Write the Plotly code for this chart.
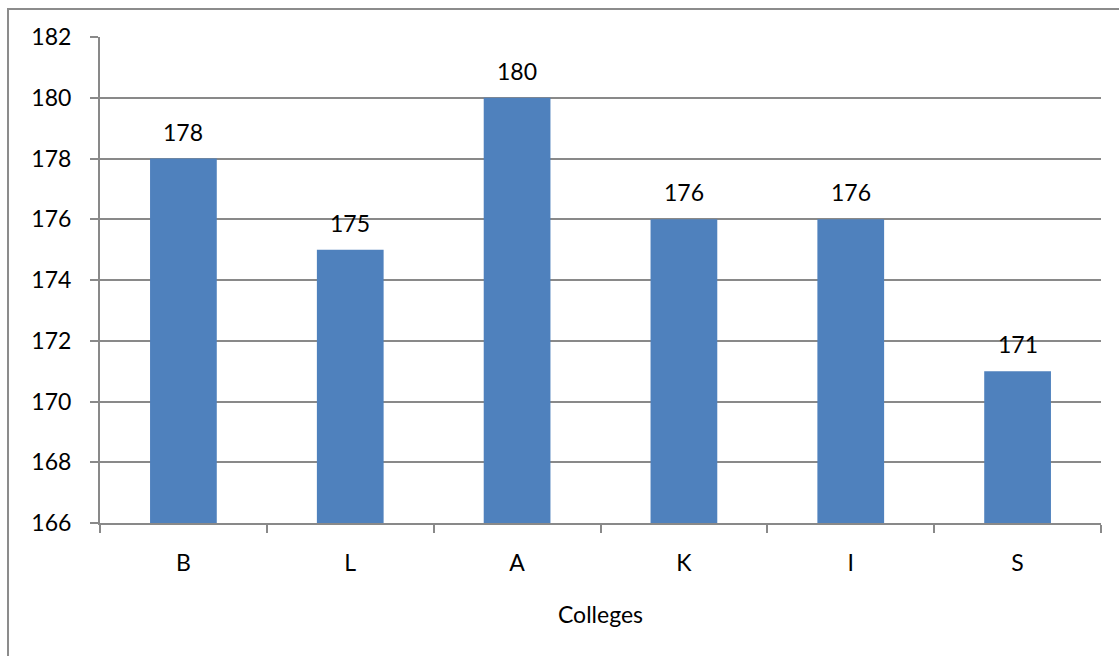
import plotly.graph_objects as go

colleges = ["B", "L", "A", "K", "I", "S"]
heights = [178, 175, 180, 176, 176, 171]
y_ticks = [166, 168, 170, 172, 174, 176, 178, 180, 182]

FONT = "Lato"
SIZE = 23
GRID = "#898989"

fig = go.Figure(
    go.Bar(
        x=colleges,
        y=heights,
        marker=dict(color="#4f81bd", line=dict(width=0)),
        hoverinfo="x+y",
    )
)

# value labels floating above each bar
for c, v in zip(colleges, heights):
    fig.add_annotation(
        x=c,
        y=v,
        text=str(v),
        showarrow=False,
        yanchor="middle",
        yshift=27,
        font=dict(family=FONT, size=SIZE, color="#000000"),
    )

fig.update_layout(
    width=1119,
    height=656,
    margin=dict(l=100, r=18, t=37, b=133),
    paper_bgcolor="white",
    plot_bgcolor="white",
    bargap=0.6,
    showlegend=False,
    font=dict(family=FONT, size=SIZE, color="#000000"),
)

fig.update_xaxes(
    type="category",
    showline=True,
    linecolor=GRID,
    linewidth=2,
    ticks="outside",
    tickson="boundaries",
    ticklen=8,
    tickwidth=2,
    tickcolor=GRID,
    showgrid=False,
    tickfont=dict(family=FONT, size=SIZE, color="#000000"),
    ticklabelstandoff=18,
    title=dict(text="Colleges", font=dict(family=FONT, size=SIZE, color="#000000"), standoff=32),
)

fig.update_yaxes(
    range=[166, 182],
    tickvals=y_ticks,
    showline=True,
    linecolor=GRID,
    linewidth=2,
    ticks="outside",
    ticklen=8,
    tickwidth=2,
    tickcolor=GRID,
    showgrid=True,
    gridcolor=GRID,
    gridwidth=2,
    zeroline=False,
    tickfont=dict(family=FONT, size=SIZE, color="#000000"),
    ticklabelstandoff=14,
)

# outer chart frame
fig.add_shape(
    type="rect",
    xref="paper",
    yref="paper",
    x0=-0.0919,
    x1=1.2,
    y0=-0.5,
    y1=1.0576,
    line=dict(color="#8c8c8c", width=2),
    fillcolor="rgba(0,0,0,0)",
    layer="below",
)

fig.write_html("out.html")
